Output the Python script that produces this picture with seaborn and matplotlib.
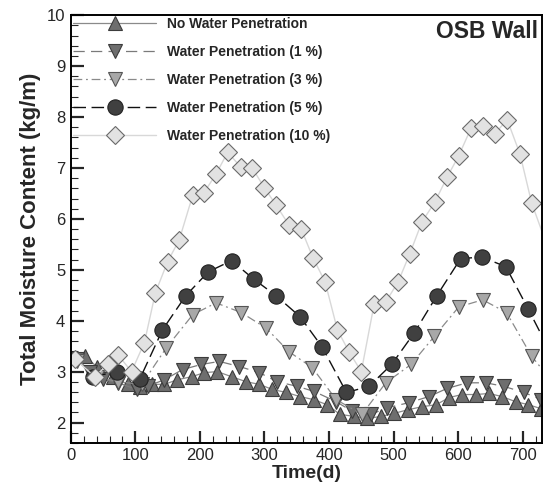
import numpy as np
import pandas as pd
import matplotlib
matplotlib.use("Agg")
import matplotlib.pyplot as plt
import seaborn as sns
from matplotlib.ticker import MultipleLocator

# values (day, kg/m)
no_water_x = [22, 40, 65, 88, 107, 125, 145, 165, 187, 207, 227, 249, 272, 292, 312, 334, 355, 376,
              397, 417, 439, 459, 481, 501, 522, 544, 566, 586, 606, 627, 648, 668, 689, 709, 729]
no_water_y = [3.30, 3.10, 2.90, 2.75, 2.69, 2.75, 2.75, 2.84, 2.90, 2.98, 3.00, 2.90, 2.80, 2.75, 2.65,
              2.59, 2.51, 2.45, 2.35, 2.16, 2.12, 2.08, 2.12, 2.18, 2.25, 2.31, 2.35, 2.49, 2.55, 2.55,
              2.57, 2.51, 2.41, 2.35, 2.27]

wp1_x = [10, 30, 50, 73, 102, 120, 145, 173, 202, 230, 261, 292, 320, 351, 377, 411, 436, 465,
         490, 524, 555, 583, 614, 643, 671, 702, 729]
wp1_y = [3.25, 3.00, 2.85, 2.78, 2.65, 2.72, 2.84, 3.04, 3.14, 3.20, 3.10, 2.98, 2.80, 2.71, 2.61,
         2.41, 2.22, 2.16, 2.29, 2.39, 2.51, 2.67, 2.78, 2.78, 2.71, 2.59, 2.45]

wp3_x = [10, 40, 73, 110, 148, 189, 225, 264, 303, 338, 374, 411, 451, 488, 527, 563, 601, 638,
         675, 714, 730]
wp3_y = [3.20, 2.90, 2.80, 2.75, 3.47, 4.12, 4.35, 4.16, 3.85, 3.39, 3.08, 2.45, 2.16, 2.78, 3.14,
         3.69, 4.27, 4.41, 4.16, 3.30, 3.05]

wp5_x = [35, 71, 107, 142, 178, 213, 249, 283, 318, 355, 389, 427, 462, 497, 532, 567, 604, 637,
         674, 709, 730]
wp5_y = [2.90, 3.00, 2.86, 3.82, 4.49, 4.96, 5.18, 4.82, 4.49, 4.08, 3.49, 2.59, 2.71, 3.14, 3.76,
         4.49, 5.22, 5.25, 5.06, 4.22, 3.70]

wp10_x = [6, 37, 57, 73, 94, 114, 131, 150, 168, 189, 206, 225, 243, 263, 281, 300, 318, 338, 357,
          375, 394, 413, 431, 450, 470, 488, 507, 525, 544, 564, 583, 601, 620, 638, 657, 676, 696,
          714, 730]
wp10_y = [3.25, 2.90, 3.14, 3.33, 3.00, 3.57, 4.55, 5.16, 5.59, 6.47, 6.51, 6.88, 7.31, 7.02, 7.00,
          6.61, 6.27, 5.88, 5.80, 5.24, 4.76, 3.82, 3.39, 3.00, 4.33, 4.37, 4.76, 5.31, 5.94, 6.33,
          6.82, 7.24, 7.78, 7.83, 7.67, 7.95, 7.27, 6.31, 5.75]

labels = ["No Water Penetration", "Water Penetration (1 %)", "Water Penetration (3 %)",
          "Water Penetration (5 %)", "Water Penetration (10 %)"]

sns.set_style("ticks")
plt.rcParams["font.family"] = ["Liberation Sans", "DejaVu Sans"]

fig = plt.figure(figsize=(5.45, 4.91), dpi=100)
ax = fig.add_axes([0.130, 0.098, 0.8645, 0.871])

styles = [
    dict(color="#8a8a8a", linestyle="-", lw=0.9, marker="^", ms=10, mfc="#6e6e6e", mec="#3c3c3c"),
    dict(color="#7a7a7a", linestyle=(0, (9, 5)), lw=0.9, marker="v", ms=10, mfc="#6e6e6e", mec="#3c3c3c"),
    dict(color="#8a8a8a", linestyle=(0, (7, 3, 1.5, 3)), lw=0.9, marker="v", ms=10, mfc="#a8a8a8", mec="#555555"),
    dict(color="#111111", linestyle=(0, (9, 4)), lw=1.0, marker="o", ms=11, mfc="#404040", mec="#222222"),
    dict(color="#d8d8d8", linestyle="-", lw=1.0, marker="D", ms=9, mfc="#e2e2e2", mec="#6a6a6a"),
]
series = [(no_water_x, no_water_y), (wp1_x, wp1_y), (wp3_x, wp3_y), (wp5_x, wp5_y), (wp10_x, wp10_y)]

for (xs, ys), lab, st in zip(series, labels, styles):
    mark = list(range(len(xs)))
    if xs[-1] == 730:
        mark = mark[:-1]
    sns.lineplot(x=xs, y=ys, ax=ax, label=lab, estimator=None, sort=False,
                 color=st["color"], linestyle=st["linestyle"], linewidth=st["lw"],
                 marker=st["marker"], markersize=st["ms"], markerfacecolor=st["mfc"],
                 markeredgecolor=st["mec"], markeredgewidth=0.8, markevery=mark)

ax.set_xlim(0, 730)
ax.set_ylim(1.6, 10)
ax.xaxis.set_major_locator(MultipleLocator(100))
ax.xaxis.set_minor_locator(MultipleLocator(20))
ax.yaxis.set_major_locator(MultipleLocator(1))
ax.yaxis.set_minor_locator(MultipleLocator(0.2))
ax.tick_params(which="major", direction="in", length=9, width=1.6, labelsize=12, pad=4)
ax.tick_params(which="minor", direction="in", length=5, width=0.8)
ax.tick_params(top=False, right=False, which="both")
for sp in ax.spines.values():
    sp.set_linewidth(1.4)
    sp.set_color("black")

ax.set_xlabel("Time(d)", fontsize=14, fontweight="bold", labelpad=1)
ax.set_ylabel("Total Moisture Content (kg/m)", fontsize=16, fontweight="bold", labelpad=4)

ax.text(0.992, 0.988, "OSB Wall", transform=ax.transAxes, ha="right", va="top",
        fontsize=16.5, fontweight="bold")

leg = ax.legend(loc="upper left", frameon=False, handlelength=6.0, handletextpad=0.8,
                labelspacing=1.0, borderaxespad=0.15, borderpad=0.0,
                prop={"weight": "bold", "size": 10})

fig.savefig("out.png", dpi=100)
